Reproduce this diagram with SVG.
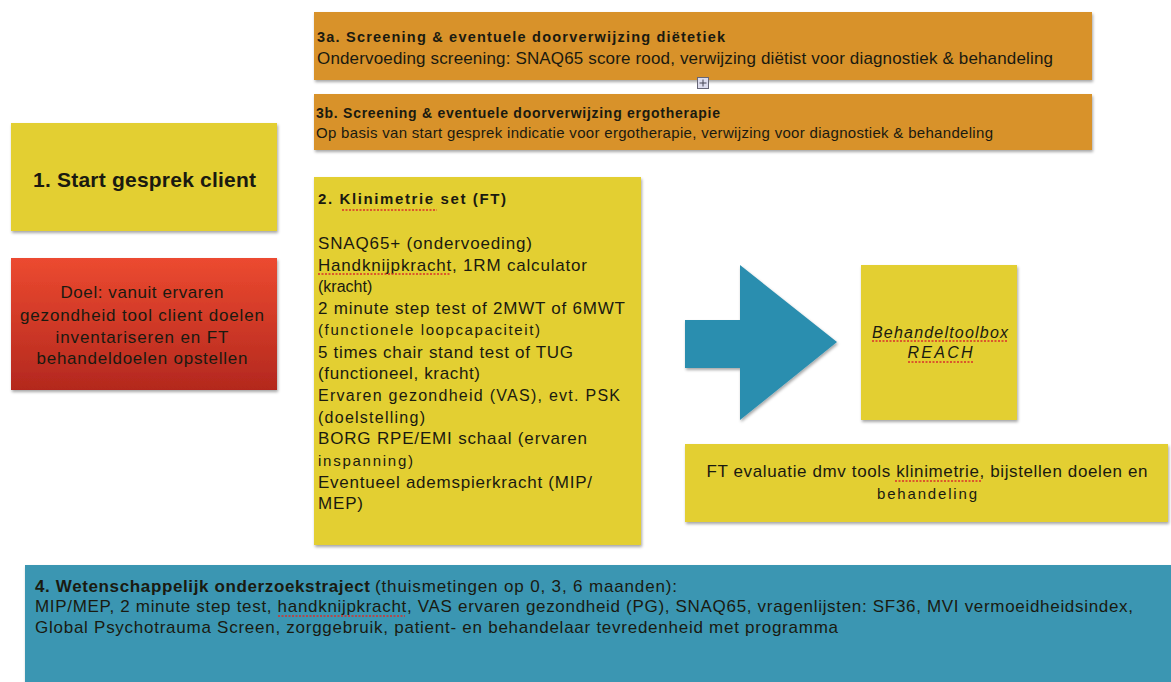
<svg xmlns="http://www.w3.org/2000/svg" width="1171" height="682" viewBox="0 0 1171 682">
<style>
text{font-family:"Liberation Sans",Arial,sans-serif;fill:#1a1a10}
.b{font-weight:bold}
.y{fill:#E3CF30}
.o{fill:#D8922B}
.c{text-anchor:middle}
.sp{stroke:#D9302A;stroke-width:1.3;stroke-dasharray:2 1.5;fill:none}
</style>
<defs>
<filter id="sh" x="-5%" y="-5%" width="112%" height="115%">
<feDropShadow dx="1" dy="2" stdDeviation="1.5" flood-color="#000" flood-opacity="0.35"/>
</filter>
<linearGradient id="red" x1="0" y1="0" x2="0" y2="1">
<stop offset="0" stop-color="#EC4A30"/>
<stop offset="1" stop-color="#B3281E"/>
</linearGradient>
</defs>
<rect width="1171" height="682" fill="#fff"/>

<g id="n3a">
<rect class="o" x="314" y="12" width="778" height="68" filter="url(#sh)"/>
<text class="b" x="317" y="42" font-size="14.5" textLength="408">3a. Screening &amp; eventuele doorverwijzing diëtetiek</text>
<text x="317" y="64" font-size="17" textLength="736">Ondervoeding screening: SNAQ65 score rood, verwijzing diëtist voor diagnostiek &amp; behandeling</text>
</g>
<g id="icon">
<rect x="697.5" y="77.5" width="11" height="11" fill="#dde" stroke="#667" stroke-width="1"/>
<path d="M699.5 83h7M703 79.5v7" stroke="#445" stroke-width="1"/>
</g>
<g id="n3b">
<rect class="o" x="314" y="94" width="778" height="56" filter="url(#sh)"/>
<text class="b" x="316" y="118" font-size="14" textLength="404">3b. Screening &amp; eventuele doorverwijzing ergotherapie</text>
<text x="316" y="138" font-size="15" textLength="677">Op basis van start gesprek indicatie voor ergotherapie, verwijzing voor diagnostiek &amp; behandeling</text>
</g>
<g id="n1">
<rect class="y" x="11" y="123" width="266" height="108" filter="url(#sh)"/>
<text class="b c" x="144.5" y="187" font-size="21" textLength="223">1. Start gesprek client</text>
</g>
<g id="doel">
<rect x="11" y="258" width="266" height="132" fill="url(#red)" filter="url(#sh)"/>
<text class="c" x="142" y="298" font-size="17" textLength="163">Doel: vanuit ervaren</text>
<text class="c" x="142" y="321" font-size="17" textLength="244">gezondheid tool client doelen</text>
<text class="c" x="142" y="343" font-size="17" textLength="173">inventariseren en FT</text>
<text class="c" x="142" y="364" font-size="17" textLength="211">behandeldoelen opstellen</text>
</g>
<g id="n2">
<rect class="y" x="314" y="177" width="327" height="368" filter="url(#sh)"/>
<text class="b" x="318" y="204" font-size="15" textLength="188">2. Klinimetrie set (FT)</text>
<g font-size="17">
<text x="318" y="249" textLength="214">SNAQ65+ (ondervoeding)</text>
<text x="318" y="271" textLength="269">Handknijpkracht, 1RM calculator</text>
<text x="318" y="292" font-size="16">(kracht)</text>
<text x="318" y="314" textLength="307">2 minute step test of 2MWT of 6MWT</text>
<text x="318" y="335" font-size="15" textLength="222">(functionele loopcapaciteit)</text>
<text x="318" y="358" textLength="255">5 times chair stand test of TUG</text>
<text x="318" y="379" textLength="162">(functioneel, kracht)</text>
<text x="318" y="401" font-size="16" textLength="302">Ervaren gezondheid (VAS), evt. PSK</text>
<text x="318" y="423" font-size="16" textLength="107">(doelstelling)</text>
<text x="318" y="444" textLength="269">BORG RPE/EMI schaal (ervaren</text>
<text x="318" y="466" font-size="15" textLength="95">inspanning)</text>
<text x="318" y="488" textLength="274">Eventueel ademspierkracht (MIP/</text>
<text x="318" y="509" textLength="45">MEP)</text>
</g>
<path class="sp" d="M342 210H437M318 274H450"/>
</g>
<g id="connectors">
<path d="M685 320H740V265L837 342L740 420V368H685Z" fill="#2C8EAF" filter="url(#sh)"/>
</g>
<g id="reach">
<rect class="y" x="861" y="265" width="156" height="155" filter="url(#sh)"/>
<text class="c" x="940" y="338" font-size="16" font-style="italic" textLength="136">Behandeltoolbox</text>
<text class="c" x="940" y="358" font-size="16" font-style="italic" textLength="65">REACH</text>
<path class="sp" d="M872 341H1008M908 362H973"/>
</g>
<g id="eval">
<rect class="y" x="685" y="444" width="483" height="78" filter="url(#sh)"/>
<text class="c" x="927" y="477" font-size="17" textLength="441">FT evaluatie dmv tools klinimetrie, bijstellen doelen en</text>
<text class="c" x="927" y="499" font-size="15" textLength="100">behandeling</text>
<path class="sp" d="M895 481H982"/>
</g>
<g id="n4">
<rect x="25" y="565" width="1152" height="125" fill="#3A96B2" filter="url(#sh)"/>
<text class="b" x="35" y="592" font-size="17" textLength="335">4. Wetenschappelijk onderzoekstraject</text>
<text x="375" y="592" font-size="17" textLength="302">(thuismetingen op 0, 3, 6 maanden):</text>
<text x="35" y="612" font-size="17" textLength="1098">MIP/MEP, 2 minute step test, handknijpkracht, VAS ervaren gezondheid (PG), SNAQ65, vragenlijsten: SF36, MVI vermoeidheidsindex,</text>
<text x="35" y="633" font-size="17" textLength="803">Global Psychotrauma Screen, zorggebruik, patient- en behandelaar tevredenheid met programma</text>
<path class="sp" d="M278 616H405"/>
</g>
</svg>
